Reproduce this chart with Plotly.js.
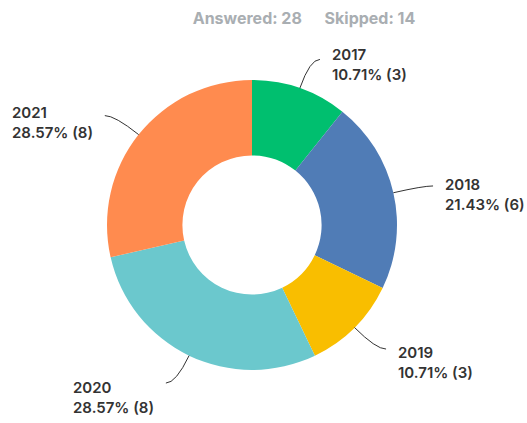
<!DOCTYPE html>
<html>
<head>
<meta charset="utf-8">
<script src="https://cdn.plot.ly/plotly-3.0.1.min.js"></script>
<style>html,body{margin:0;padding:0;background:#fff;}#chart{width:527px;height:423px;}</style>
</head>
<body>
<div id="chart"></div>
<script>
const years = ["2017", "2018", "2019", "2020", "2021"];
const counts = [3, 6, 3, 8, 8];
const colors = ["#00BF6F", "#507CB6", "#F9BE00", "#6BC8CD", "#FF8B4F"];
const answered = 28;
const skipped = 14;

const W = 527, H = 423;
const cx = 252, cy = 225, R = 145;
const total = counts.reduce((a, b) => a + b, 0);

const px = x => x / W;
const py = y => 1 - y / H;

const annotations = [];
const shapes = [];
let cum = 0;
counts.forEach((c, i) => {
  const mid = (cum + c / 2) / total * 2 * Math.PI;
  cum += c;
  const dx = Math.sin(mid), dy = -Math.cos(mid);
  const side = dx >= 0 ? 1 : -1;
  const x0 = cx + R * dx, y0 = cy + R * dy;
  const xc = cx + 1.21 * R * dx, yc = cy + 1.21 * R * dy;
  const x1 = xc + side * 10, y1 = yc;
  shapes.push({
    type: "path", xref: "paper", yref: "paper",
    path: `M ${px(x0)} ${py(y0)} Q ${px(xc)} ${py(yc)} ${px(x1)} ${py(y1)}`,
    line: {color: "#333", width: 1}
  });
  const pct = (c / total * 100).toFixed(2);
  annotations.push({
    xref: "paper", yref: "paper",
    x: px(x1 + side * 10), y: py(y1 + 10 + 5 * dy),
    xanchor: side > 0 ? "left" : "right", yanchor: "middle",
    align: "left", showarrow: false,
    text: years[i] + "<br>" + pct + "% (" + c + ")",
    font: {family: "Inter, sans-serif", size: 15, color: "#333", weight: 600}
  });
});

const data = [{
  type: "pie",
  values: counts,
  labels: years,
  marker: {colors: colors, line: {width: 0}},
  hole: 0.48,
  sort: false,
  direction: "clockwise",
  rotation: 0,
  textinfo: "none",
  hoverinfo: "none",
  showlegend: false,
  domain: {x: [px(cx - R), px(cx + R)], y: [py(cy + R), py(cy - R)]}
}];

const layout = {
  width: W, height: H,
  margin: {l: 0, r: 0, t: 0, b: 0},
  paper_bgcolor: "#fff",
  showlegend: false,
  title: {
    text: "Answered: " + answered + "&nbsp;&nbsp;&nbsp;&nbsp;&nbsp;&nbsp;Skipped: " + skipped,
    x: 304 / W, xanchor: "center", y: 1 - 18 / H, yanchor: "middle",
    font: {family: "Inter, sans-serif", size: 16, color: "#A9AEB2", weight: 700}
  },
  annotations: annotations,
  shapes: shapes
};

Plotly.newPlot("chart", data, layout, {displayModeBar: false, staticPlot: true});
</script>
</body>
</html>
